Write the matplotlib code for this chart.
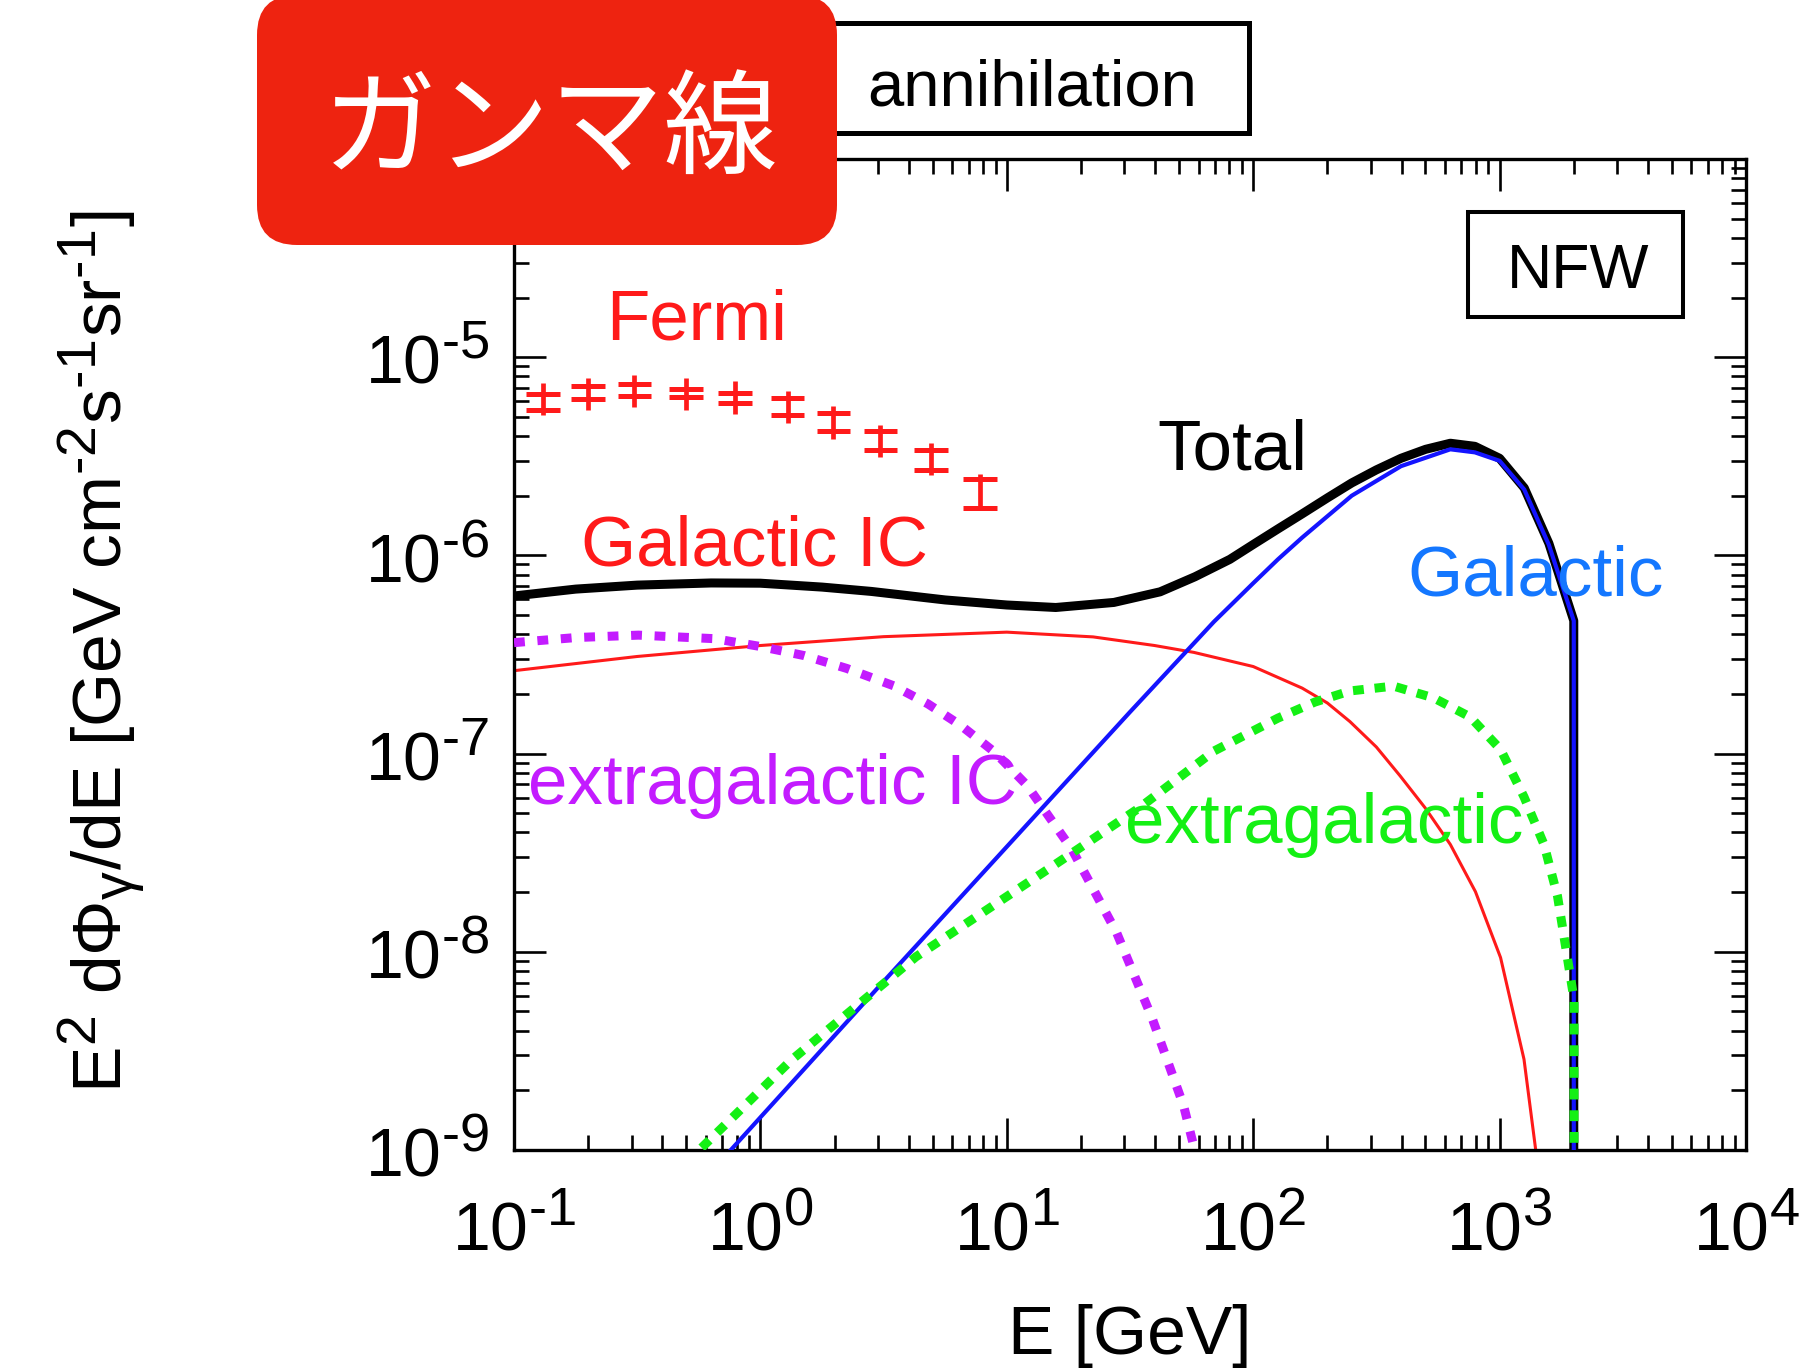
import numpy as np
import matplotlib
matplotlib.use("Agg")
import matplotlib.pyplot as plt
import matplotlib._mathtext as mathtext_mod
from matplotlib.patches import FancyBboxPatch, Rectangle
from matplotlib.ticker import LogLocator, FuncFormatter, NullFormatter

plt.rcParams['font.family'] = ['Liberation Sans', 'DejaVu Sans']
plt.rcParams['mathtext.fontset'] = 'custom'
plt.rcParams['mathtext.rm'] = 'Liberation Sans'
plt.rcParams['mathtext.it'] = 'Liberation Sans:italic'
plt.rcParams['mathtext.bf'] = 'Liberation Sans:bold'
plt.rcParams['mathtext.default'] = 'regular'
# the original uses larger exponents than mathtext's default 0.7
mathtext_mod.SHRINK_FACTOR = 0.8

HY = '\u2010'  # short hyphen for exponents, like the original

# total
tot_E = [0.1, 0.178, 0.316, 0.631, 1.0, 1.78, 2.82, 5.62, 10, 15.8, 27.2, 41.9, 58, 80.4,
         100, 126, 158, 200, 251, 316, 398, 501, 631, 794, 1000, 1259, 1585, 2000, 2000]
tot_F = [6.24e-7, 6.76e-7, 7.08e-7, 7.26e-7, 7.24e-7, 6.92e-7, 6.58e-7, 5.96e-7, 5.62e-7, 5.46e-7,
         5.79e-7, 6.55e-7, 7.8e-7, 9.55e-7, 1.135e-6, 1.36e-6, 1.62e-6, 1.95e-6, 2.32e-6, 2.70e-6,
         3.09e-6, 3.43e-6, 3.68e-6, 3.55e-6, 3.09e-6, 2.19e-6, 1.15e-6, 4.68e-7, 1e-10]

# galactic (prompt)
gal_E = [0.708, 3.16, 10, 31.6, 69.2, 100, 126, 158, 251, 398, 631, 794, 1000, 1259, 1585, 2000, 2000]
gal_F = [9.1e-10, 7.08e-9, 3.39e-8, 1.62e-7, 4.62e-7, 7.24e-7, 9.55e-7, 1.23e-6, 2.0e-6, 2.82e-6,
         3.43e-6, 3.31e-6, 3.0e-6, 2.15e-6, 1.13e-6, 4.68e-7, 1e-10]

# galactic IC
ic_E = [0.1, 0.316, 1.0, 3.16, 10, 22.4, 39.8, 57.5, 100, 158, 200, 247, 316, 395, 500, 631, 798,
        1009, 1256, 1400, 1450]
ic_F = [2.62e-7, 3.09e-7, 3.51e-7, 3.89e-7, 4.10e-7, 3.88e-7, 3.51e-7, 3.24e-7, 2.75e-7, 2.14e-7,
        1.80e-7, 1.45e-7, 1.08e-7, 7.71e-8, 5.3e-8, 3.48e-8, 2.01e-8, 9.35e-9, 2.87e-9, 1.01e-9, 6e-10]

# extragalactic IC
xic_E = [0.1, 0.178, 0.32, 0.653, 1.0, 1.51, 2.24, 3.47, 4.79, 6.49, 8.9, 12.1, 18.4, 27.9, 39.0, 52.2, 57.9, 62]
xic_F = [3.63e-7, 3.85e-7, 3.96e-7, 3.80e-7, 3.47e-7, 3.12e-7, 2.69e-7, 2.20e-7, 1.78e-7, 1.39e-7,
         1.02e-7, 6.90e-8, 3.28e-8, 1.25e-8, 4.58e-9, 1.67e-9, 1.0e-9, 7e-10]

# extragalactic
xg_E = [0.5, 0.565, 1.33, 4.28, 14.9, 34.4, 69.3, 126, 178, 247, 371, 540, 760, 1009, 1256,
        1514, 1718, 1884, 2005, 2005]
xg_F = [8.6e-10, 1e-9, 2.83e-9, 9.44e-9, 2.64e-8, 5.31e-8, 1.03e-7, 1.51e-7, 1.82e-7, 2.07e-7,
        2.19e-7, 1.91e-7, 1.53e-7, 1.05e-7, 6.05e-8, 3.48e-8, 1.91e-8, 9.33e-9, 5.75e-9, 1e-10]

# Fermi data points
fermi_E = [0.131, 0.2, 0.308, 0.498, 0.787, 1.29, 1.98, 3.07, 4.93, 7.78]
fermi_top = [7.41e-6, 7.85e-6, 8.17e-6, 7.85e-6, 7.55e-6, 6.78e-6, 5.65e-6, 4.57e-6, 3.69e-6, 2.58e-6]
fermi_bot = [5.13e-6, 5.43e-6, 5.58e-6, 5.43e-6, 5.19e-6, 4.66e-6, 3.88e-6, 3.14e-6, 2.55e-6, 1.69e-6]
fermi_hi = [6.55e-6, 7.13e-6, 7.36e-6, 6.92e-6, 6.61e-6, 6.22e-6, 5.24e-6, 4.26e-6, 3.42e-6, 2.44e-6]
fermi_lo = [5.43e-6, 6.15e-6, 6.40e-6, 6.29e-6, 5.87e-6, 5.13e-6, 4.23e-6, 3.39e-6, 2.71e-6, 1.74e-6]

W, H = 1819, 1372
fig = plt.figure(figsize=(W / 100, H / 100), dpi=100)
ax = fig.add_axes([514 / W, 1 - 1150 / H, 1232 / W, 991 / H])
ax.set_xscale('log')
ax.set_yscale('log')
ax.set_xlim(0.1, 1e4)
ax.set_ylim(1e-9, 1e-4)

red = '#ff1a1a'
ax.plot(ic_E, ic_F, color=red, lw=2.2, zorder=2)
ax.plot(tot_E, tot_F, color='black', lw=6.5, zorder=3)
ax.plot(gal_E, gal_F, color='#1414ff', lw=3.0, zorder=4)
ax.plot(xic_E, xic_F, color='#c31bff', lw=6.5, linestyle=(0, (1.2, 1.4)),
        dash_capstyle='butt', zorder=5)
ax.plot(xg_E, xg_F, color='#14f014', lw=6.5, linestyle=(0, (1.2, 1.2)),
        dash_capstyle='butt', zorder=6)

fe = np.array(fermi_E)
hw = 10 ** 0.068
ax.vlines(fe, fermi_bot, fermi_top, color=red, lw=3.4, zorder=7)
ax.hlines(fermi_hi, fe / hw, fe * hw, color=red, lw=3.6, zorder=7)
ax.hlines(fermi_lo, fe / hw, fe * hw, color=red, lw=3.6, zorder=7)


def pow10(v, p):
    e = int(round(np.log10(v)))
    if e == -4:
        return ''  # sits under the title box in the original
    s = HY + str(-e) if e < 0 else str(e)
    return r'$10^{%s}$' % s


fmt = FuncFormatter(pow10)
for axis in (ax.xaxis, ax.yaxis):
    axis.set_major_locator(LogLocator(base=10, numticks=20))
    axis.set_minor_locator(LogLocator(base=10, subs=np.arange(2, 10), numticks=20))
    axis.set_major_formatter(fmt)
    axis.set_minor_formatter(NullFormatter())
ax.tick_params(which='both', direction='in', top=True, right=True, width=1.9, labelsize=49)
ax.tick_params(which='major', length=23)
ax.tick_params(which='minor', length=11)
ax.tick_params(axis='x', pad=34)
ax.tick_params(axis='y', pad=18)
for s in ax.spines.values():
    s.set_linewidth(2.4)

ax.set_xlabel('E [GeV]', fontsize=50)
ax.xaxis.set_label_coords(0.5, -0.155)
ax.set_ylabel(r'E$^{2}$ d$\Phi_{\gamma}$/dE [GeV cm$^{%s2}$s$^{%s1}$sr$^{%s1}$]' % (HY, HY, HY),
              fontsize=50)
ax.yaxis.set_label_coords(-0.297, 0.5025)

# overlay in pixel coordinates for boxes and labels
ov = fig.add_axes([0, 0, 1, 1], zorder=5)
ov.set_xlim(0, W)
ov.set_ylim(H, 0)
ov.axis('off')

ov.add_patch(Rectangle((800, 23), 449, 110, fc='white', ec='black', lw=3.6, zorder=1))
ov.text(1032, 106, 'annihilation', fontsize=47, ha='center', va='baseline', zorder=2)

ov.add_patch(FancyBboxPatch((257, -5), 580, 250, boxstyle='round,pad=0,rounding_size=40',
                            fc='#ee2310', ec='none', zorder=3))
ov.text(551, 132, 'ガンマ線', fontsize=82, color='white', ha='center', va='center',
        family=['Noto Sans CJK JP', 'DejaVu Sans'], zorder=4)

ov.add_patch(Rectangle((1468, 212), 215, 105, fc='white', ec='black', lw=2.9, zorder=1))
ov.text(1578, 288, 'NFW', fontsize=45, ha='center', va='baseline', zorder=2)

labels = [
    ('Fermi', 697, 339, red),
    ('Total', 1232, 470, 'black'),
    ('Galactic IC', 754, 565, red),
    ('Galactic', 1536, 596, '#1477ff'),
    ('extragalactic IC', 772, 804, '#c31bff'),
    ('extragalactic', 1324, 843, '#14f014'),
]
for txt, x, y, c in labels:
    ov.text(x, y, txt, fontsize=51, color=c, ha='center', va='baseline', zorder=2)

fig.savefig('out.png', dpi=100)
